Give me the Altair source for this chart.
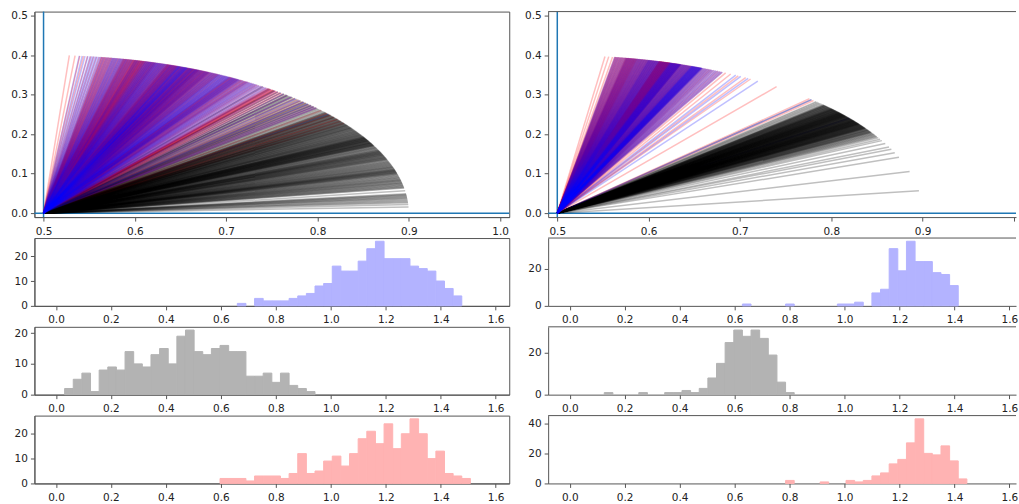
import math
import altair as alt
import pandas as pd

# ---------------- data ----------------
BIN_WIDTH = math.pi / 100      # histogram bins: 50 bins over [0, pi/2]
ORIGIN_X = 0.5                 # every ray starts at (0.5, 0)
RAY_LENGTH = 0.4

# counts per bin, starting at the given bin index (bin k = [k*w, (k+1)*w])
L_BLUE_START = 21
L_BLUE = [1, 0, 3, 2, 2, 2, 3, 4, 5, 8, 9, 16, 14, 14, 18, 23, 26, 19, 19, 19, 16, 15, 14, 10, 7, 4]
L_GRAY_START = 1
L_GRAY = [2, 5, 7, 1, 8, 9, 8, 14, 10, 9, 13, 15, 10, 19, 21, 14, 13, 15, 16, 14, 14, 6, 6, 7, 4, 7, 3, 2, 1]
L_RED_START = 19
L_RED = [2, 2, 2, 1, 3, 3, 3, 2, 4, 12, 4, 5, 9, 11, 7, 12, 18, 21, 16, 24, 14, 20, 26, 20, 10, 13, 4, 3, 2]

R_BLUE_START = 20
R_BLUE = [1, 0, 0, 0, 0, 1, 0, 0, 0, 0, 0, 1, 1, 2, 0, 7, 9, 31, 19, 35, 24, 24, 18, 17, 11]
R_GRAY_START = 4
R_GRAY = [1, 0, 0, 0, 1, 0, 0, 1, 1, 2, 1, 3, 8, 15, 25, 31, 28, 31, 27, 19, 6, 1]
R_RED_START = 25
R_RED = [2, 0, 0, 0, 1, 0, 0, 2, 1, 2, 5, 7, 13, 16, 27, 43, 20, 19, 25, 15, 3]

TOP_X_TICKS = [0.5, 0.6, 0.7, 0.8, 0.9, 1.0]
TOP_Y_TICKS = [0.0, 0.1, 0.2, 0.3, 0.4, 0.5]
HIST_X_TICKS = [0.0, 0.2, 0.4, 0.6, 0.8, 1.0, 1.2, 1.4, 1.6]
L_HIST_Y_TICKS = [[0, 10, 20], [0, 10, 20], [0, 10, 20]]
R_HIST_Y_TICKS = [[0, 20], [0, 20], [0, 20, 40]]

GROUPS = ["blue", "black", "red"]
LINE_COLORS = ["#0000ff", "#000000", "#ff0000"]
HIST_COLORS = ["#b3b3ff", "#b3b3b3", "#ffb3b3"]
DRAW_RANK = {"red": 0, "black": 1, "blue": 2}   # drawing-order bias of the groups

# ---------------- styling ----------------
FONT = "DejaVu Sans"
SPINE = "#555555"
AXLINE = "#1f77b4"
W_LEFT, W_RIGHT = 476, 469
H_TOP, H_HIST = 206, 68
PX_PER_TOP = W_LEFT / 0.52
PX_PER_HIST = W_LEFT / (1.6493 + 0.0785)

TOP_X_DOM_L = [0.49, 1.01]
TOP_X_DOM_R = [0.49, 0.49 + W_RIGHT / PX_PER_TOP]
TOP_Y_DOM = [-0.01, 0.51]
HIST_X_DOM_L = [-0.0785, 1.6493]
HIST_X_DOM_R = [-0.0785, -0.0785 + W_RIGHT / PX_PER_HIST]


def bins_df(start, counts):
    rows = []
    for i, c in enumerate(counts):
        if c:
            k = start + i
            rows.append({"lo": k * BIN_WIDTH, "hi": (k + 1) * BIN_WIDTH, "count": c, "base": 0})
    return pd.DataFrame(rows)


def angles(start, counts):
    out = []
    for i, c in enumerate(counts):
        k = start + i
        for j in range(c):
            out.append((k + (j + 0.5) / c) * BIN_WIDTH)
    return out


def rays_df(parts):
    rows = []
    for name, angs in parts:
        n = len(angs)
        for j, a in enumerate(angs):
            key = 0.8 * ((j * 100) % n) / n + 0.1 * DRAW_RANK[name]
            rows.append({"group": name, "theta": a, "key": key})
    return pd.DataFrame(rows).sort_values("key").reset_index(drop=True)


def x_axis(values, fmt, hide_from=None):
    kw = dict(values=values, format=fmt, title=None, grid=False, tickSize=4,
              labelPadding=5, domain=True)
    if hide_from is not None:
        kw["labelExpr"] = f"datum.value >= {hide_from} ? '' : datum.label"
    return alt.Axis(**kw)


def y_axis(values, fmt):
    return alt.Axis(values=values, format=fmt, title=None, grid=False, tickSize=4,
                    labelPadding=3, domain=True)


def top_border(width):
    return alt.Chart(pd.DataFrame({"a": [0]})).mark_rule(color=SPINE, strokeWidth=1).encode(
        x=alt.value(0), x2=alt.value(width), y=alt.value(0))


def top_chart(rays, width, xdom, right_col):
    xs = alt.Scale(domain=xdom, nice=False, zero=False)
    ys = alt.Scale(domain=TOP_Y_DOM, nice=False, zero=False)
    xa = x_axis(TOP_X_TICKS, ".1f", hide_from=0.999 if right_col else None)
    ya = y_axis(TOP_Y_TICKS, ".1f")
    vline = alt.Chart(pd.DataFrame({"x": [ORIGIN_X]})).mark_rule(
        color=AXLINE, strokeWidth=1.5).encode(x=alt.X("x:Q", scale=xs, axis=xa))
    hline = alt.Chart(pd.DataFrame({"y": [0.0]})).mark_rule(
        color=AXLINE, strokeWidth=1.5).encode(y=alt.Y("y:Q", scale=ys, axis=ya))
    lines = alt.Chart(rays).transform_calculate(
        x0=f"{ORIGIN_X}",
        y0="0",
        x1=f"{ORIGIN_X} + {RAY_LENGTH} * cos(datum.theta)",
        y1=f"{RAY_LENGTH} * sin(datum.theta)",
    ).mark_rule(strokeWidth=1.5, opacity=0.25).encode(
        x=alt.X("x0:Q", scale=xs, axis=xa),
        y=alt.Y("y0:Q", scale=ys, axis=ya),
        x2="x1:Q",
        y2="y1:Q",
        color=alt.Color("group:N", scale=alt.Scale(domain=GROUPS, range=LINE_COLORS), legend=None),
    )
    layers = [vline, hline, lines]
    props = dict(width=width, height=H_TOP)
    if right_col:
        layers.append(top_border(width))
        props["view"] = alt.ViewBackground(stroke="transparent")
    return alt.layer(*layers).properties(**props)


def hist_chart(df, width, xdom, yticks, color, right_col):
    ymax = 1.05 * df["count"].max()
    xs = alt.Scale(domain=xdom, nice=False, zero=False)
    ys = alt.Scale(domain=[0, ymax], nice=False, zero=False)
    bars = alt.Chart(df).mark_rect(color=color, stroke=color, strokeWidth=1).encode(
        x=alt.X("lo:Q", scale=xs, axis=x_axis(HIST_X_TICKS, ".1f")),
        x2="hi:Q",
        y=alt.Y("count:Q", scale=ys, axis=y_axis(yticks, "d")),
        y2="base:Q",
    )
    layers = [bars]
    props = dict(width=width, height=H_HIST)
    if right_col:
        layers.append(top_border(width))
        props["view"] = alt.ViewBackground(stroke="transparent")
    return alt.layer(*layers).properties(**props)


left_groups = [(L_BLUE_START, L_BLUE), (L_GRAY_START, L_GRAY), (L_RED_START, L_RED)]
right_groups = [(R_BLUE_START, R_BLUE), (R_GRAY_START, R_GRAY), (R_RED_START, R_RED)]

left_rays = rays_df([(g, angles(s, c)) for g, (s, c) in zip(GROUPS, left_groups)])
right_rays = rays_df([(g, angles(s, c)) for g, (s, c) in zip(GROUPS, right_groups)])

cells = [top_chart(left_rays, W_LEFT, TOP_X_DOM_L, False),
         top_chart(right_rays, W_RIGHT, TOP_X_DOM_R, True)]
for i in range(3):
    cells.append(hist_chart(bins_df(*left_groups[i]), W_LEFT, HIST_X_DOM_L,
                            L_HIST_Y_TICKS[i], HIST_COLORS[i], False))
    cells.append(hist_chart(bins_df(*right_groups[i]), W_RIGHT, HIST_X_DOM_R,
                            R_HIST_Y_TICKS[i], HIST_COLORS[i], True))

chart = alt.concat(
    *cells, columns=2, spacing={"row": 21, "column": 39}, bounds="flush", align="each"
).properties(
    padding={"left": 9.5, "top": 9, "right": 0, "bottom": 0},
    background="white",
).configure_view(
    stroke=SPINE, strokeWidth=1
).configure_axis(
    labelFont=FONT, labelFontSize=10.5, labelColor="#222222",
    tickColor=SPINE, domainColor=SPINE, tickWidth=1, domainWidth=1,
)

chart.save("out.html", embed_options={"renderer": "svg", "actions": False})
